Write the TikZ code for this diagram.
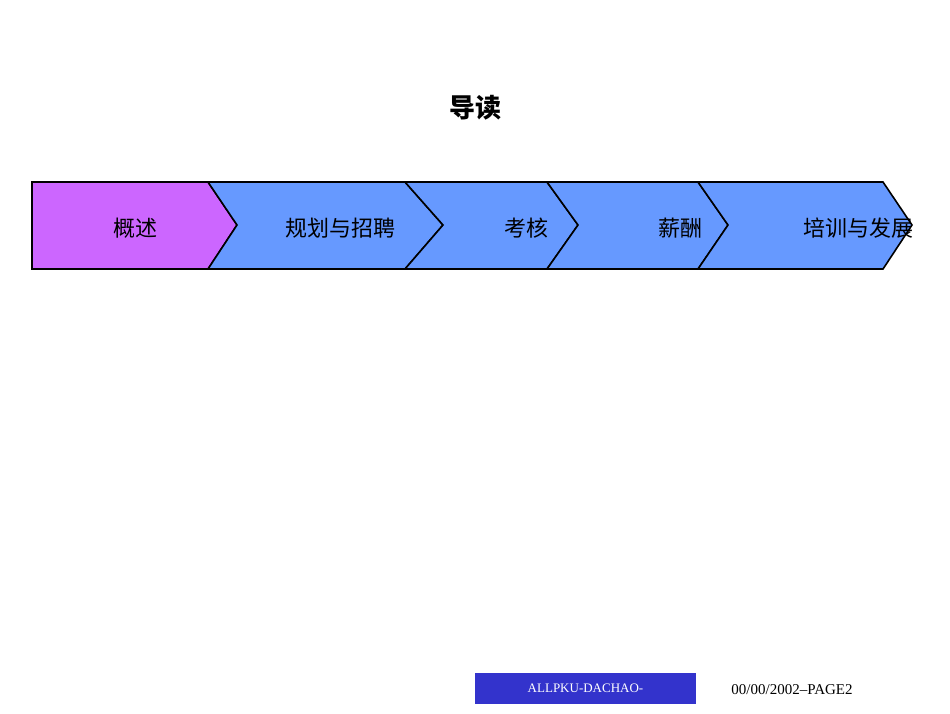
\documentclass[tikz,border=0pt]{standalone}
\usepackage{fontspec}
\setmainfont{Liberation Serif}
\newfontfamily\cjk{Noto Sans CJK SC}
\definecolor{stepviolet}{HTML}{CC66FF}
\definecolor{stepblue}{HTML}{6699FF}
\definecolor{footblue}{HTML}{3333CC}
\begin{document}
\begin{tikzpicture}[x=1pt,y=-1pt,line width=1.6pt,line join=miter]
\tikzstyle{every node}=[]
\tikzstyle{steplabel}=[font=\cjk\fontsize{22}{22}\selectfont, inner sep=0pt]
\useasboundingbox (0,0) rectangle (950,713);

\node[font=\cjk\bfseries\fontsize{26}{26}\selectfont] (title) at (475,108) {导读};

% chevron row
\draw[fill=stepviolet] (32,182) -- (208,182) -- (237,225) -- (208,269) -- (32,269) -- cycle;
\draw[fill=stepblue] (208,182) -- (405,182) -- (443,225) -- (405,269) -- (208,269) -- (237,225) -- cycle;
\draw[fill=stepblue] (405,182) -- (547,182) -- (578,225) -- (547,269) -- (405,269) -- (443,225) -- cycle;
\draw[fill=stepblue] (547,182) -- (698,182) -- (728,225) -- (698,269) -- (547,269) -- (578,225) -- cycle;
\draw[fill=stepblue] (698,182) -- (883,182) -- (912,225) -- (883,269) -- (698,269) -- (728,225) -- cycle;

\node[steplabel] (s1) at (135,228) {概述};
\node[steplabel] (s2) at (340,228) {规划与招聘};
\node[steplabel] (s3) at (526,228) {考核};
\node[steplabel] (s4) at (680,228) {薪酬};
\node[steplabel] (s5) at (858,228) {培训与发展};

% footer
\node[fill=footblue, text=white, minimum width=221pt, minimum height=31pt, inner sep=0pt,
      font=\fontsize{13}{13}\selectfont] (foot) at (585.5,688.5) {ALLPKU-DACHAO-};
\node[font=\fontsize{15}{15}\selectfont] (page) at (792,690) {00/00/2002--PAGE2};
\end{tikzpicture}
\end{document}
